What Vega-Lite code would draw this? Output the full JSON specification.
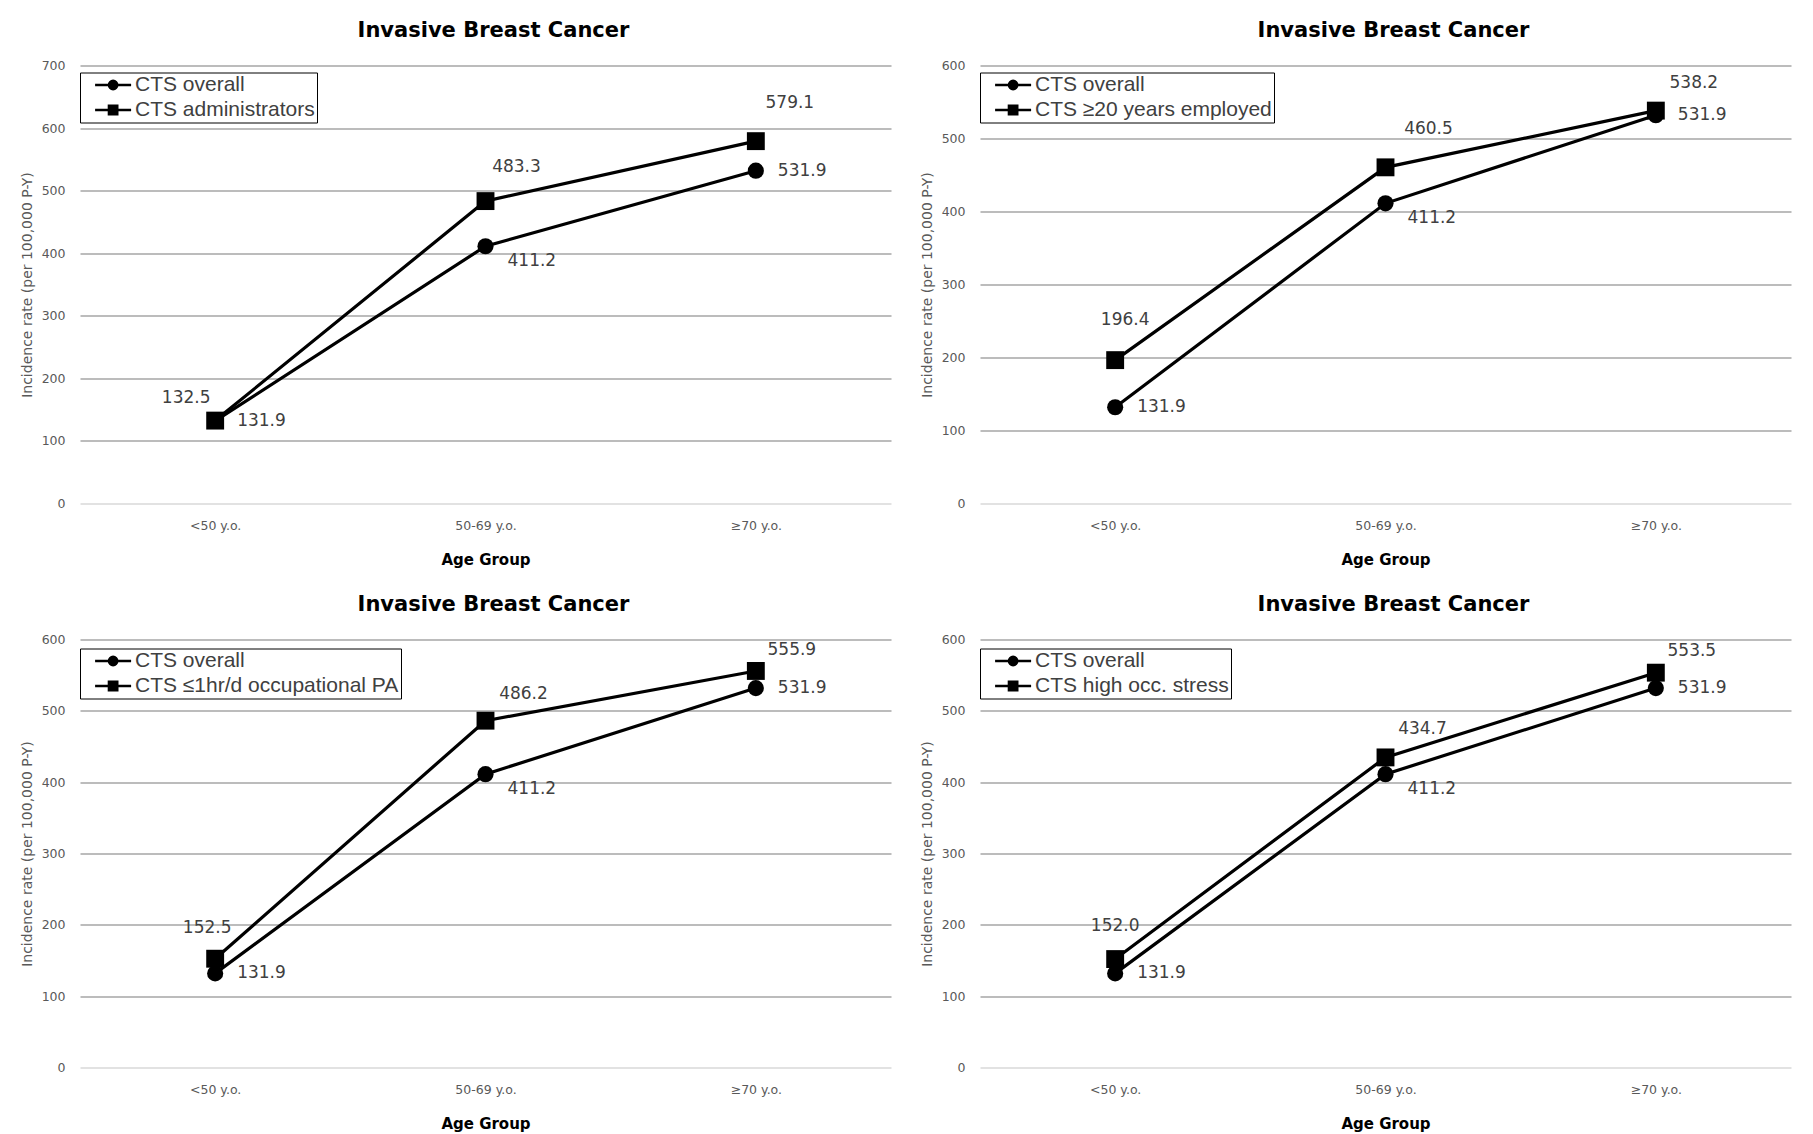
{
  "$schema": "https://vega.github.io/schema/vega-lite/v6.json",
  "background": "white",
  "padding": {"left": 20, "top": 19.5, "right": 10, "bottom": 10},
  "datasets": {
    "rates": [
      {"panel": "administrators", "age": "<50 y.o.", "series": "CTS overall", "rate": 131.9},
      {"panel": "administrators", "age": "50-69 y.o.", "series": "CTS overall", "rate": 411.2},
      {"panel": "administrators", "age": "≥70 y.o.", "series": "CTS overall", "rate": 531.9},
      {"panel": "administrators", "age": "<50 y.o.", "series": "CTS administrators", "rate": 132.5},
      {"panel": "administrators", "age": "50-69 y.o.", "series": "CTS administrators", "rate": 483.3},
      {"panel": "administrators", "age": "≥70 y.o.", "series": "CTS administrators", "rate": 579.1},
      {"panel": "tenure", "age": "<50 y.o.", "series": "CTS overall", "rate": 131.9},
      {"panel": "tenure", "age": "50-69 y.o.", "series": "CTS overall", "rate": 411.2},
      {"panel": "tenure", "age": "≥70 y.o.", "series": "CTS overall", "rate": 531.9},
      {"panel": "tenure", "age": "<50 y.o.", "series": "CTS ≥20 years employed", "rate": 196.4},
      {"panel": "tenure", "age": "50-69 y.o.", "series": "CTS ≥20 years employed", "rate": 460.5},
      {"panel": "tenure", "age": "≥70 y.o.", "series": "CTS ≥20 years employed", "rate": 538.2},
      {"panel": "activity", "age": "<50 y.o.", "series": "CTS overall", "rate": 131.9},
      {"panel": "activity", "age": "50-69 y.o.", "series": "CTS overall", "rate": 411.2},
      {"panel": "activity", "age": "≥70 y.o.", "series": "CTS overall", "rate": 531.9},
      {"panel": "activity", "age": "<50 y.o.", "series": "CTS ≤1hr/d occupational PA", "rate": 152.5},
      {"panel": "activity", "age": "50-69 y.o.", "series": "CTS ≤1hr/d occupational PA", "rate": 486.2},
      {"panel": "activity", "age": "≥70 y.o.", "series": "CTS ≤1hr/d occupational PA", "rate": 555.9},
      {"panel": "stress", "age": "<50 y.o.", "series": "CTS overall", "rate": 131.9},
      {"panel": "stress", "age": "50-69 y.o.", "series": "CTS overall", "rate": 411.2},
      {"panel": "stress", "age": "≥70 y.o.", "series": "CTS overall", "rate": 531.9},
      {"panel": "stress", "age": "<50 y.o.", "series": "CTS high occ. stress", "rate": 152.0},
      {"panel": "stress", "age": "50-69 y.o.", "series": "CTS high occ. stress", "rate": 434.7},
      {"panel": "stress", "age": "≥70 y.o.", "series": "CTS high occ. stress", "rate": 553.5}
    ]
  },
  "spacing": 26,
  "resolve": {"scale": {"x": "independent", "y": "independent", "shape": "independent"}, "axis": {"x": "independent", "y": "independent"}, "legend": {"shape": "independent"}},
  "vconcat": [
    {
      "spacing": 29,
      "resolve": {"scale": {"x": "independent", "y": "independent", "shape": "independent"}, "axis": {"x": "independent", "y": "independent"}, "legend": {"shape": "independent"}},
      "hconcat": [
        {
          "width": 811, "height": 438,
          "title": {"text": "Invasive Breast Cancer"},
          "data": {"name": "rates"},
          "transform": [{"filter": "datum.panel === 'administrators'"}],
          "encoding": {
            "x": {"field": "age", "type": "nominal", "sort": null, "scale": {"type": "point", "padding": 0.5, "domain": ["<50 y.o.", "50-69 y.o.", "≥70 y.o."]}, "axis": {"title": "Age Group"}},
            "y": {"field": "rate", "type": "quantitative", "scale": {"domain": [0, 700], "nice": false}, "axis": {"title": "Incidence rate (per 100,000 P-Y)", "values": [0, 100, 200, 300, 400, 500, 600, 700]}}
          },
          "layer": [
            {"mark": {"type": "line", "color": "black", "strokeWidth": 3.2}, "encoding": {"detail": {"field": "series"}, "order": {"value": null}}},
            {"transform": [{"filter": "datum.series === 'CTS overall'"}], "mark": {"type": "point", "shape": "circle", "filled": true, "color": "black", "opacity": 1, "size": 260}},
            {"transform": [{"filter": "datum.series !== 'CTS overall'"}], "mark": {"type": "point", "shape": "square", "filled": true, "color": "black", "opacity": 1, "size": 320}},
            {"mark": {"type": "point", "filled": false, "color": "black", "strokeWidth": 2.7, "opacity": 0},
             "encoding": {"shape": {"field": "series", "type": "nominal",
               "scale": {"domain": ["CTS overall", "CTS administrators"], "range": ["M-2,0H2M0.15,0A0.15,0.15,0,1,1,-0.15,0A0.15,0.15,0,1,1,0.15,0ZM0.45,0A0.45,0.45,0,1,1,-0.45,0A0.45,0.45,0,1,1,0.45,0Z", "M-2,0H2M-0.15,-0.15H0.15V0.15H-0.15ZM-0.45,-0.45H0.45V0.45H-0.45Z"]},
               "legend": {"orient": "none", "legendX": 0, "legendY": 7, "title": null, "encode": {"legend": {"update": {"strokeWidth": {"value": 1.6}}}}}}}},
            {"transform": [{"filter": "datum.series === 'CTS overall' && datum.age !== '50-69 y.o.'"}], "mark": {"type": "text", "align": "left", "baseline": "middle", "dx": 22, "dy": 0}, "encoding": {"text": {"field": "rate", "type": "quantitative", "format": ".1f"}}},
            {"transform": [{"filter": "datum.series === 'CTS overall' && datum.age === '50-69 y.o.'"}], "mark": {"type": "text", "align": "left", "baseline": "middle", "dx": 22, "dy": 14.5}, "encoding": {"text": {"field": "rate", "type": "quantitative", "format": ".1f"}}},
            {"transform": [{"filter": "datum.series !== 'CTS overall' && datum.age === '<50 y.o.'"}], "mark": {"type": "text", "align": "center", "baseline": "middle", "dx": -29, "dy": -23}, "encoding": {"text": {"field": "rate", "type": "quantitative", "format": ".1f"}}},
            {"transform": [{"filter": "datum.series !== 'CTS overall' && datum.age === '50-69 y.o.'"}], "mark": {"type": "text", "align": "center", "baseline": "middle", "dx": 31, "dy": -34}, "encoding": {"text": {"field": "rate", "type": "quantitative", "format": ".1f"}}},
            {"transform": [{"filter": "datum.series !== 'CTS overall' && datum.age === '≥70 y.o.'"}], "mark": {"type": "text", "align": "center", "baseline": "middle", "dx": 34, "dy": -38}, "encoding": {"text": {"field": "rate", "type": "quantitative", "format": ".1f"}}}
          ]
        },
        {
          "width": 811, "height": 438,
          "title": {"text": "Invasive Breast Cancer"},
          "data": {"name": "rates"},
          "transform": [{"filter": "datum.panel === 'tenure'"}],
          "encoding": {
            "x": {"field": "age", "type": "nominal", "sort": null, "scale": {"type": "point", "padding": 0.5, "domain": ["<50 y.o.", "50-69 y.o.", "≥70 y.o."]}, "axis": {"title": "Age Group"}},
            "y": {"field": "rate", "type": "quantitative", "scale": {"domain": [0, 600], "nice": false}, "axis": {"title": "Incidence rate (per 100,000 P-Y)", "values": [0, 100, 200, 300, 400, 500, 600]}}
          },
          "layer": [
            {"mark": {"type": "line", "color": "black", "strokeWidth": 3.2}, "encoding": {"detail": {"field": "series"}, "order": {"value": null}}},
            {"transform": [{"filter": "datum.series === 'CTS overall'"}], "mark": {"type": "point", "shape": "circle", "filled": true, "color": "black", "opacity": 1, "size": 260}},
            {"transform": [{"filter": "datum.series !== 'CTS overall'"}], "mark": {"type": "point", "shape": "square", "filled": true, "color": "black", "opacity": 1, "size": 320}},
            {"mark": {"type": "point", "filled": false, "color": "black", "strokeWidth": 2.7, "opacity": 0},
             "encoding": {"shape": {"field": "series", "type": "nominal",
               "scale": {"domain": ["CTS overall", "CTS ≥20 years employed"], "range": ["M-2,0H2M0.15,0A0.15,0.15,0,1,1,-0.15,0A0.15,0.15,0,1,1,0.15,0ZM0.45,0A0.45,0.45,0,1,1,-0.45,0A0.45,0.45,0,1,1,0.45,0Z", "M-2,0H2M-0.15,-0.15H0.15V0.15H-0.15ZM-0.45,-0.45H0.45V0.45H-0.45Z"]},
               "legend": {"orient": "none", "legendX": 0, "legendY": 7, "title": null, "encode": {"legend": {"update": {"strokeWidth": {"value": 1.6}}}}}}}},
            {"transform": [{"filter": "datum.series === 'CTS overall' && datum.age !== '50-69 y.o.'"}], "mark": {"type": "text", "align": "left", "baseline": "middle", "dx": 22, "dy": 0}, "encoding": {"text": {"field": "rate", "type": "quantitative", "format": ".1f"}}},
            {"transform": [{"filter": "datum.series === 'CTS overall' && datum.age === '50-69 y.o.'"}], "mark": {"type": "text", "align": "left", "baseline": "middle", "dx": 22, "dy": 14.5}, "encoding": {"text": {"field": "rate", "type": "quantitative", "format": ".1f"}}},
            {"transform": [{"filter": "datum.series !== 'CTS overall' && datum.age === '<50 y.o.'"}], "mark": {"type": "text", "align": "center", "baseline": "middle", "dx": 10, "dy": -40}, "encoding": {"text": {"field": "rate", "type": "quantitative", "format": ".1f"}}},
            {"transform": [{"filter": "datum.series !== 'CTS overall' && datum.age === '50-69 y.o.'"}], "mark": {"type": "text", "align": "center", "baseline": "middle", "dx": 43, "dy": -38}, "encoding": {"text": {"field": "rate", "type": "quantitative", "format": ".1f"}}},
            {"transform": [{"filter": "datum.series !== 'CTS overall' && datum.age === '≥70 y.o.'"}], "mark": {"type": "text", "align": "center", "baseline": "middle", "dx": 38, "dy": -28}, "encoding": {"text": {"field": "rate", "type": "quantitative", "format": ".1f"}}}
          ]
        }
      ]
    },
    {
      "spacing": 29,
      "resolve": {"scale": {"x": "independent", "y": "independent", "shape": "independent"}, "axis": {"x": "independent", "y": "independent"}, "legend": {"shape": "independent"}},
      "hconcat": [
        {
          "width": 811, "height": 428,
          "title": {"text": "Invasive Breast Cancer"},
          "data": {"name": "rates"},
          "transform": [{"filter": "datum.panel === 'activity'"}],
          "encoding": {
            "x": {"field": "age", "type": "nominal", "sort": null, "scale": {"type": "point", "padding": 0.5, "domain": ["<50 y.o.", "50-69 y.o.", "≥70 y.o."]}, "axis": {"title": "Age Group"}},
            "y": {"field": "rate", "type": "quantitative", "scale": {"domain": [0, 600], "nice": false}, "axis": {"title": "Incidence rate (per 100,000 P-Y)", "values": [0, 100, 200, 300, 400, 500, 600]}}
          },
          "layer": [
            {"mark": {"type": "line", "color": "black", "strokeWidth": 3.2}, "encoding": {"detail": {"field": "series"}, "order": {"value": null}}},
            {"transform": [{"filter": "datum.series === 'CTS overall'"}], "mark": {"type": "point", "shape": "circle", "filled": true, "color": "black", "opacity": 1, "size": 260}},
            {"transform": [{"filter": "datum.series !== 'CTS overall'"}], "mark": {"type": "point", "shape": "square", "filled": true, "color": "black", "opacity": 1, "size": 320}},
            {"mark": {"type": "point", "filled": false, "color": "black", "strokeWidth": 2.7, "opacity": 0},
             "encoding": {"shape": {"field": "series", "type": "nominal",
               "scale": {"domain": ["CTS overall", "CTS ≤1hr/d occupational PA"], "range": ["M-2,0H2M0.15,0A0.15,0.15,0,1,1,-0.15,0A0.15,0.15,0,1,1,0.15,0ZM0.45,0A0.45,0.45,0,1,1,-0.45,0A0.45,0.45,0,1,1,0.45,0Z", "M-2,0H2M-0.15,-0.15H0.15V0.15H-0.15ZM-0.45,-0.45H0.45V0.45H-0.45Z"]},
               "legend": {"orient": "none", "legendX": 0, "legendY": 9, "title": null, "encode": {"legend": {"update": {"strokeWidth": {"value": 1.6}}}}}}}},
            {"transform": [{"filter": "datum.series === 'CTS overall' && datum.age !== '50-69 y.o.'"}], "mark": {"type": "text", "align": "left", "baseline": "middle", "dx": 22, "dy": 0}, "encoding": {"text": {"field": "rate", "type": "quantitative", "format": ".1f"}}},
            {"transform": [{"filter": "datum.series === 'CTS overall' && datum.age === '50-69 y.o.'"}], "mark": {"type": "text", "align": "left", "baseline": "middle", "dx": 22, "dy": 14.5}, "encoding": {"text": {"field": "rate", "type": "quantitative", "format": ".1f"}}},
            {"transform": [{"filter": "datum.series !== 'CTS overall' && datum.age === '<50 y.o.'"}], "mark": {"type": "text", "align": "center", "baseline": "middle", "dx": -8, "dy": -31}, "encoding": {"text": {"field": "rate", "type": "quantitative", "format": ".1f"}}},
            {"transform": [{"filter": "datum.series !== 'CTS overall' && datum.age === '50-69 y.o.'"}], "mark": {"type": "text", "align": "center", "baseline": "middle", "dx": 38, "dy": -27}, "encoding": {"text": {"field": "rate", "type": "quantitative", "format": ".1f"}}},
            {"transform": [{"filter": "datum.series !== 'CTS overall' && datum.age === '≥70 y.o.'"}], "mark": {"type": "text", "align": "center", "baseline": "middle", "dx": 36, "dy": -21}, "encoding": {"text": {"field": "rate", "type": "quantitative", "format": ".1f"}}}
          ]
        },
        {
          "width": 811, "height": 428,
          "title": {"text": "Invasive Breast Cancer"},
          "data": {"name": "rates"},
          "transform": [{"filter": "datum.panel === 'stress'"}],
          "encoding": {
            "x": {"field": "age", "type": "nominal", "sort": null, "scale": {"type": "point", "padding": 0.5, "domain": ["<50 y.o.", "50-69 y.o.", "≥70 y.o."]}, "axis": {"title": "Age Group"}},
            "y": {"field": "rate", "type": "quantitative", "scale": {"domain": [0, 600], "nice": false}, "axis": {"title": "Incidence rate (per 100,000 P-Y)", "values": [0, 100, 200, 300, 400, 500, 600]}}
          },
          "layer": [
            {"mark": {"type": "line", "color": "black", "strokeWidth": 3.2}, "encoding": {"detail": {"field": "series"}, "order": {"value": null}}},
            {"transform": [{"filter": "datum.series === 'CTS overall'"}], "mark": {"type": "point", "shape": "circle", "filled": true, "color": "black", "opacity": 1, "size": 260}},
            {"transform": [{"filter": "datum.series !== 'CTS overall'"}], "mark": {"type": "point", "shape": "square", "filled": true, "color": "black", "opacity": 1, "size": 320}},
            {"mark": {"type": "point", "filled": false, "color": "black", "strokeWidth": 2.7, "opacity": 0},
             "encoding": {"shape": {"field": "series", "type": "nominal",
               "scale": {"domain": ["CTS overall", "CTS high occ. stress"], "range": ["M-2,0H2M0.15,0A0.15,0.15,0,1,1,-0.15,0A0.15,0.15,0,1,1,0.15,0ZM0.45,0A0.45,0.45,0,1,1,-0.45,0A0.45,0.45,0,1,1,0.45,0Z", "M-2,0H2M-0.15,-0.15H0.15V0.15H-0.15ZM-0.45,-0.45H0.45V0.45H-0.45Z"]},
               "legend": {"orient": "none", "legendX": 0, "legendY": 9, "title": null, "encode": {"legend": {"update": {"strokeWidth": {"value": 1.6}}}}}}}},
            {"transform": [{"filter": "datum.series === 'CTS overall' && datum.age !== '50-69 y.o.'"}], "mark": {"type": "text", "align": "left", "baseline": "middle", "dx": 22, "dy": 0}, "encoding": {"text": {"field": "rate", "type": "quantitative", "format": ".1f"}}},
            {"transform": [{"filter": "datum.series === 'CTS overall' && datum.age === '50-69 y.o.'"}], "mark": {"type": "text", "align": "left", "baseline": "middle", "dx": 22, "dy": 14.5}, "encoding": {"text": {"field": "rate", "type": "quantitative", "format": ".1f"}}},
            {"transform": [{"filter": "datum.series !== 'CTS overall' && datum.age === '<50 y.o.'"}], "mark": {"type": "text", "align": "center", "baseline": "middle", "dx": 0, "dy": -33}, "encoding": {"text": {"field": "rate", "type": "quantitative", "format": ".1f"}}},
            {"transform": [{"filter": "datum.series !== 'CTS overall' && datum.age === '50-69 y.o.'"}], "mark": {"type": "text", "align": "center", "baseline": "middle", "dx": 37, "dy": -28}, "encoding": {"text": {"field": "rate", "type": "quantitative", "format": ".1f"}}},
            {"transform": [{"filter": "datum.series !== 'CTS overall' && datum.age === '≥70 y.o.'"}], "mark": {"type": "text", "align": "center", "baseline": "middle", "dx": 36, "dy": -22}, "encoding": {"text": {"field": "rate", "type": "quantitative", "format": ".1f"}}}
          ]
        }
      ]
    }
  ],
  "config": {
    "view": {"stroke": null},
    "title": {"font": "DejaVu Sans", "fontSize": 21, "fontWeight": "bold", "color": "black", "anchor": "middle", "frame": "group", "dx": 8, "offset": 19},
    "text": {"font": "DejaVu Sans", "fontSize": 17, "color": "#404040"},
    "axisX": {
      "labelFont": "DejaVu Sans", "labelFontSize": 12.5, "labelColor": "#595959", "labelAngle": 0, "labelPadding": 16,
      "ticks": false, "domain": false, "grid": false,
      "titleFont": "DejaVu Sans", "titleFontSize": 15, "titleFontWeight": "bold", "titleColor": "black", "titlePadding": 20
    },
    "axisY": {
      "labelFont": "DejaVu Sans", "labelFontSize": 12.5, "labelColor": "#595959", "labelPadding": 15,
      "ticks": false, "domain": false, "grid": true,
      "gridColor": {"condition": {"test": "datum.value === 0", "value": "#d9d9d9"}, "value": "#a6a6a6"},
      "gridWidth": 1.5, "minExtent": 38, "maxExtent": 38,
      "titleFont": "DejaVu Sans", "titleFontSize": 14, "titleFontWeight": "normal", "titleColor": "#595959", "titlePadding": 8
    },
    "legend": {
      "labelFont": "Liberation Sans", "labelFontSize": 21, "labelColor": "#404040", "labelLimit": 600,
      "strokeColor": "black", "fillColor": "white", "padding": 2, "rowPadding": 3,
      "symbolSize": 324, "symbolStrokeWidth": 2.7, "symbolStrokeColor": "black", "symbolFillColor": "transparent", "symbolOpacity": 1,
      "symbolOffset": 20.6, "labelOffset": 11.4
    }
  }
}
